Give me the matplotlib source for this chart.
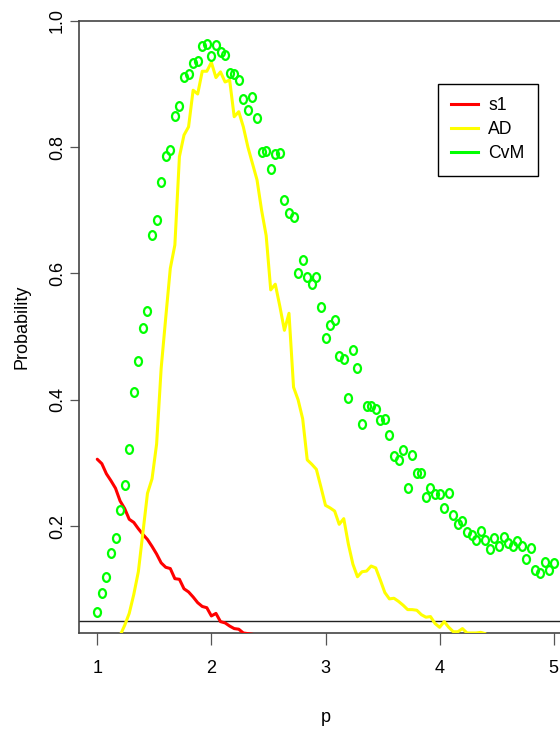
import numpy as np
import matplotlib
matplotlib.use("Agg")
import matplotlib.pyplot as plt
from matplotlib import font_manager
from matplotlib.lines import Line2D
from matplotlib.path import Path
from matplotlib.transforms import Affine2D

# grid of p values (step 0.04)
p = np.round(np.linspace(1, 5, 101), 2)

# s1 probability, from p = 1.00 until it leaves the plot
s1 = [0.306, 0.299, 0.283, 0.272, 0.260, 0.240, 0.228, 0.211, 0.206, 0.196,
      0.187, 0.179, 0.168, 0.156, 0.142, 0.135, 0.133, 0.117, 0.116, 0.101,
      0.096, 0.088, 0.079, 0.073, 0.071, 0.058, 0.062, 0.049, 0.047, 0.042,
      0.038, 0.037, 0.031, 0.030, 0.029, 0.026]

# AD probability, starting at p = 1.16
ad_start = 4
ad = [0.010, 0.027, 0.043, 0.062, 0.092, 0.128, 0.190, 0.252, 0.275, 0.330,
      0.450, 0.530, 0.608, 0.645, 0.785, 0.819, 0.832, 0.890, 0.884, 0.920,
      0.920, 0.934, 0.910, 0.919, 0.903, 0.906, 0.848, 0.856, 0.832, 0.800,
      0.774, 0.748, 0.700, 0.660, 0.574, 0.583, 0.548, 0.510, 0.537, 0.420,
      0.400, 0.370, 0.305, 0.298, 0.290, 0.262, 0.233, 0.229, 0.224, 0.203,
      0.212, 0.172, 0.140, 0.120, 0.128, 0.129, 0.137, 0.134, 0.115, 0.095,
      0.085, 0.086, 0.081, 0.075, 0.068, 0.068, 0.067, 0.060, 0.056, 0.057,
      0.046, 0.040, 0.049, 0.040, 0.033, 0.033, 0.038, 0.031, 0.031, 0.031,
      0.032, 0.030, 0.022]

# CvM probability for every p
cvm = [0.064, 0.095, 0.119, 0.157, 0.182, 0.225, 0.266, 0.322, 0.413, 0.461,
       0.514, 0.540, 0.661, 0.684, 0.744, 0.786, 0.795, 0.849, 0.865, 0.911,
       0.916, 0.933, 0.936, 0.960, 0.963, 0.944, 0.962, 0.950, 0.946, 0.918,
       0.916, 0.906, 0.876, 0.858, 0.879, 0.846, 0.792, 0.794, 0.765, 0.789,
       0.790, 0.717, 0.696, 0.690, 0.601, 0.622, 0.595, 0.583, 0.595, 0.547,
       0.498, 0.519, 0.527, 0.470, 0.464, 0.403, 0.479, 0.450, 0.362, 0.390,
       0.391, 0.385, 0.368, 0.369, 0.344, 0.311, 0.304, 0.321, 0.261, 0.313,
       0.285, 0.285, 0.247, 0.261, 0.251, 0.251, 0.229, 0.252, 0.218, 0.204,
       0.209, 0.191, 0.186, 0.178, 0.192, 0.178, 0.164, 0.182, 0.169, 0.183,
       0.173, 0.169, 0.177, 0.168, 0.148, 0.166, 0.131, 0.126, 0.144, 0.130,
       0.142]

level = 0.05
xticks = [1, 2, 3, 4, 5]
yticks = [0.2, 0.4, 0.6, 0.8, 1.0]
names = ["s1", "AD", "CvM"]
colors = ["#ff0000", "#ffff00", "#00ff00"]

have = {f.name for f in font_manager.fontManager.ttflist}
narrow = "Liberation Sans Narrow" if "Liberation Sans Narrow" in have else "Liberation Sans"
plt.rcParams["font.family"] = ["Liberation Sans", "DejaVu Sans"]

fig = plt.figure(figsize=(5.6, 7.31), dpi=100)
W, H = 560, 731
ax = fig.add_axes([79 / W, (H - 633) / H, (572 - 79) / W, (633 - 20.7) / H])

ax.plot(p[:len(s1)], s1, color=colors[0], lw=2.2,
        solid_joinstyle="round", solid_capstyle="round", zorder=3)
ax.plot(p[ad_start:ad_start + len(ad)], ad, color=colors[1], lw=2.2,
        solid_joinstyle="round", solid_capstyle="round", zorder=3)

# open circles, slightly taller than wide
ring = Path.unit_circle().transformed(Affine2D().scale(0.8, 1.0))
ax.plot(p, cvm, linestyle="none", marker=ring, markersize=6.3,
        markerfacecolor="none", markeredgecolor=colors[2],
        markeredgewidth=1.6, zorder=4)

ax.axhline(level, color="#222222", lw=1.0, zorder=2)

ax.set_xlim(0.84, 5.16)
ax.set_ylim(0.031, 1.0)
ax.set_xticks(xticks)
ax.set_xticklabels([str(v) for v in xticks])
ax.set_yticks(yticks)
ax.set_yticklabels(["%.1f" % v for v in yticks])

for side in ["top", "left", "bottom"]:
    ax.spines[side].set_color("#444444")
    ax.spines[side].set_linewidth(1.2)
ax.spines["right"].set_visible(False)

ax.tick_params(axis="x", length=8.5, width=0.9, color="#555555",
               pad=11, labelsize=13)
ax.tick_params(axis="y", length=6.5, width=0.9, color="#555555",
               pad=3, labelsize=13, labelrotation=90)
for t in ax.get_yticklabels():
    t.set_va("center")

ax.set_xlabel("p", fontsize=13)
ax.xaxis.set_label_coords(0.5, (633 - 709.5) / 612.3)
ax.set_ylabel("Probability", fontsize=13)
ax.yaxis.set_label_coords((31 - 79) / 493, 0.5)

handles = [Line2D([], [], color=c, lw=2.2) for c in colors]
leg = ax.legend(handles, names, loc="upper left",
                bbox_to_anchor=(438 / W, 1 - 84 / H),
                bbox_transform=fig.transFigure, borderaxespad=0,
                prop={"family": narrow, "size": 12.7},
                handlelength=1.5, handletextpad=0.6, borderpad=0.75,
                labelspacing=0.4, fancybox=False, framealpha=1)
leg.get_frame().set_edgecolor("black")
leg.get_frame().set_linewidth(1.0)

fig.savefig("out.png", dpi=100)
